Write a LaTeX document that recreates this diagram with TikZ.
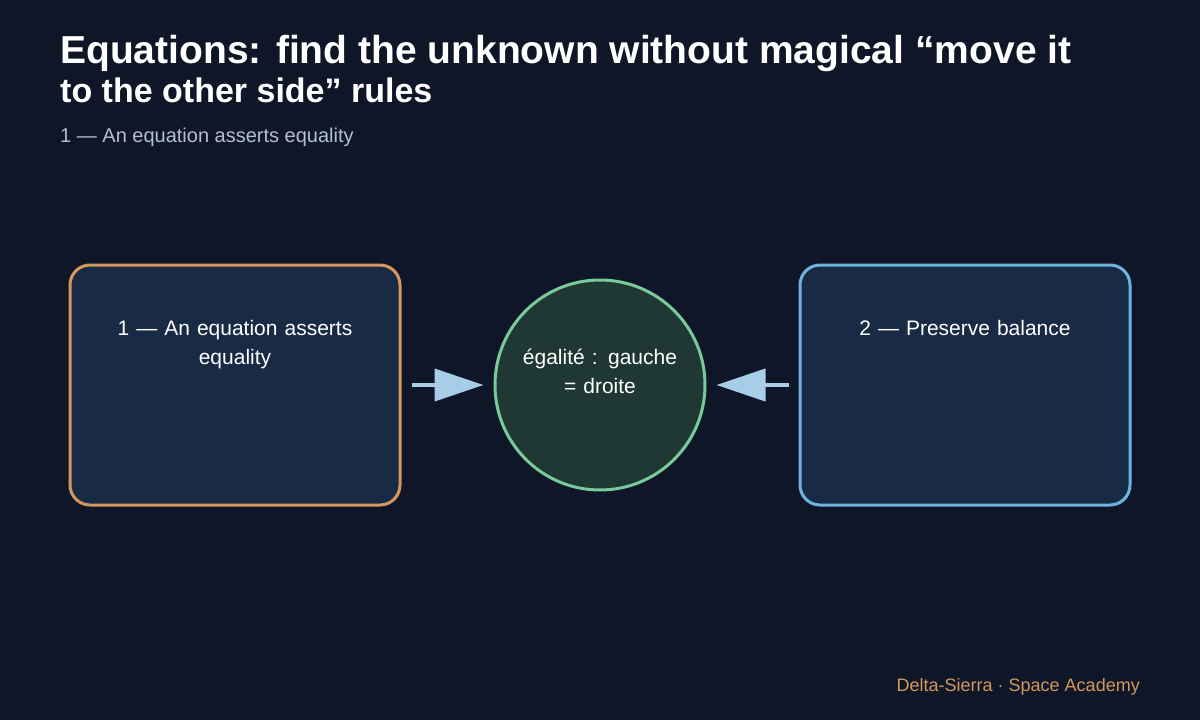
\documentclass[tikz,border=0pt]{standalone}
\usepackage{fontspec}
\setmainfont{Liberation Sans}
\usetikzlibrary{arrows.meta}
\definecolor{bg}{HTML}{0E1627}
\definecolor{boxfill}{HTML}{182A44}
\definecolor{orangeb}{HTML}{D4975E}
\definecolor{blueb}{HTML}{6FB3E0}
\definecolor{circfill}{HTML}{1F3833}
\definecolor{greenb}{HTML}{79C99A}
\definecolor{arrowc}{HTML}{A7CDE8}
\definecolor{subc}{HTML}{AFC0D4}
\begin{document}
\begin{tikzpicture}[x=1pt,y=-1pt,
  box/.style={draw,line width=3pt,fill=boxfill,rounded corners=20pt,minimum width=330pt,minimum height=240pt,inner sep=0pt},
  boxtext/.style={text=white,font=\fontsize{21}{29}\selectfont,align=center,anchor=base},
  conn/.style={arrowc,line width=4pt,-{Triangle[length=49pt,width=32pt]},shorten <=10pt,shorten >=10pt}]
\fill[bg] (0,0) rectangle (1200,720);
\useasboundingbox (0,0) rectangle (1200,720);
\node[anchor=base west,text=white,font=\fontsize{39}{41}\selectfont\bfseries,inner sep=0pt] (t1) at (60,63) {Equations: find the unknown without magical “move it};
\node[anchor=base west,text=white,font=\fontsize{34}{41}\selectfont\bfseries,inner sep=0pt] (t2) at (60,102) {to the other side” rules};
\node[anchor=base west,text=subc,font=\fontsize{20}{24}\selectfont,inner sep=0pt] (st) at (60,142) {1 — An equation asserts equality};
\node[box,draw=orangeb] (L) at (235,385) {};
\node[box,draw=blueb] (R) at (965,385) {};
\node[draw=greenb,line width=3pt,fill=circfill,circle,minimum size=210pt,inner sep=0pt] (C) at (600,385) {};
\node[boxtext,text width=300pt] (lt) at (235,335) {1 — An equation asserts\\equality};
\node[boxtext,text width=300pt] (rt) at (965,335) {2 — Preserve balance};
\node[boxtext,text width=190pt] (ct) at (600,364) {égalité : gauche\\= droite};
\draw[conn] (L.east) -- (C.west);
\draw[conn] (R.west) -- (C.east);
\node[anchor=base east,text=orangeb,font=\fontsize{18}{22}\selectfont,inner sep=0pt] (ft) at (1140,691) {Delta-Sierra · Space Academy};
\end{tikzpicture}
\end{document}
